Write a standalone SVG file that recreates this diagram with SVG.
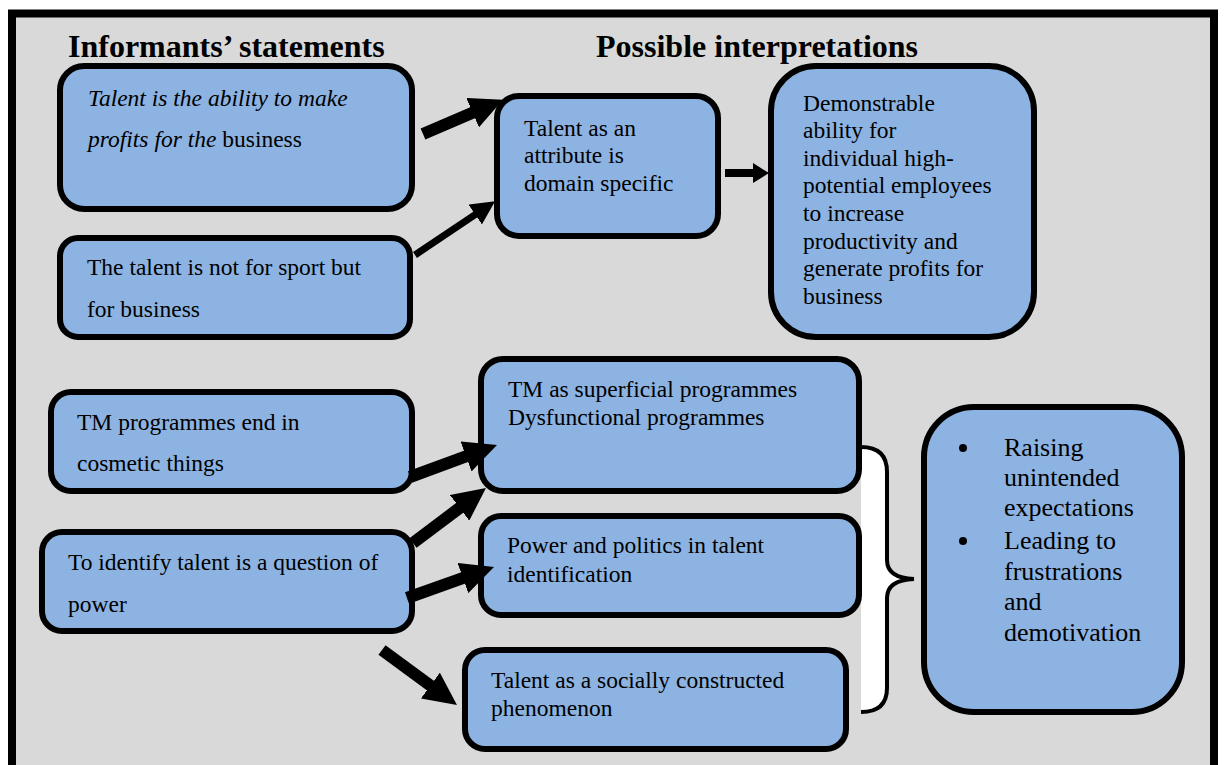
<svg xmlns="http://www.w3.org/2000/svg" width="1224" height="765" viewBox="0 0 1224 765">
<style>
.box{fill:#8db3e2;stroke:#000;stroke-width:6}
.t{font-family:"Liberation Serif","Times New Roman",serif;font-size:23.5px;fill:#000}
.t2{font-family:"Liberation Serif","Times New Roman",serif;font-size:26px;fill:#000}
.h{font-family:"Liberation Serif","Times New Roman",serif;font-size:32px;font-weight:bold;fill:#000}
.c{stroke:#000;fill:none}
</style>
<defs>
<marker id="big" markerUnits="userSpaceOnUse" viewBox="0 0 33 32" markerWidth="33" markerHeight="32" refX="5" refY="16" orient="auto"><path d="M0,0 L33,16 L0,32 z" fill="#000"/></marker>
<marker id="mid" markerUnits="userSpaceOnUse" viewBox="0 0 24 24" markerWidth="24" markerHeight="24" refX="4" refY="12" orient="auto"><path d="M0,0 L24,12 L0,24 z" fill="#000"/></marker>
<marker id="small" markerUnits="userSpaceOnUse" viewBox="0 0 16 20" markerWidth="16" markerHeight="20" refX="3" refY="10" orient="auto"><path d="M0,0 L16,10 L0,20 z" fill="#000"/></marker>
</defs>
<rect x="12" y="13.5" width="1202" height="760" fill="#d9d9d9" stroke="#000" stroke-width="8"/>
<text class="h" x="68" y="57">Informants’ statements</text>
<text class="h" x="596" y="57">Possible interpretations</text>

<g id="brace">
<path d="M861,447 Q887,447 887,472 L887,560 Q887,578 914,579 Q887,580 887,598 L887,688 Q887,712 861,712 Z" fill="#fff"/>
<path d="M861,447 Q887,447 887,472 L887,560 Q887,578 914,579 Q887,580 887,598 L887,688 Q887,712 861,712" fill="none" stroke="#000" stroke-width="4"/>
</g>

<g id="n1"><rect class="box" x="60" y="66" width="352" height="143" rx="24"/>
<text class="t" x="88" y="106" font-style="italic">Talent is the ability to make</text>
<text class="t" x="88" y="147"><tspan font-style="italic">profits for the</tspan> business</text></g>

<g id="n2"><rect class="box" x="60" y="238" width="350" height="99" rx="18"/>
<text class="t" x="87" y="275">The talent is not for sport but</text>
<text class="t" x="87" y="317">for business</text></g>

<g id="n3"><rect class="box" x="497" y="96" width="221" height="140" rx="22"/>
<text class="t" x="524" y="136">Talent as an</text>
<text class="t" x="524" y="163">attribute is</text>
<text class="t" x="524" y="191">domain specific</text></g>

<g id="n4"><rect class="box" x="771" y="66" width="263" height="271" rx="45"/>
<text class="t" x="803" y="111">Demonstrable</text>
<text class="t" x="803" y="138">ability for</text>
<text class="t" x="803" y="166">individual high-</text>
<text class="t" x="803" y="193">potential employees</text>
<text class="t" x="803" y="221">to increase</text>
<text class="t" x="803" y="249">productivity and</text>
<text class="t" x="803" y="276">generate profits for</text>
<text class="t" x="803" y="304">business</text></g>

<g id="n5"><rect class="box" x="51" y="392" width="361" height="99" rx="20"/>
<text class="t" x="77" y="430">TM programmes end in</text>
<text class="t" x="77" y="471">cosmetic things</text></g>

<g id="n6"><rect class="box" x="42" y="532" width="370" height="99" rx="20"/>
<text class="t" x="68" y="570">To identify talent is a question of</text>
<text class="t" x="68" y="612">power</text></g>

<g id="n7"><rect class="box" x="481" y="359" width="378" height="132" rx="22"/>
<text class="t" x="508" y="397">TM as superficial programmes</text>
<text class="t" x="508" y="425">Dysfunctional programmes</text></g>

<g id="n8"><rect class="box" x="481" y="516" width="378" height="99" rx="20"/>
<text class="t" x="507" y="553">Power and politics in talent</text>
<text class="t" x="507" y="582">identification</text></g>

<g id="n9"><rect class="box" x="465" y="650" width="381" height="99" rx="20"/>
<text class="t" x="491" y="688">Talent as a socially constructed</text>
<text class="t" x="491" y="716">phenomenon</text></g>

<g id="n10"><rect class="box" x="924" y="407" width="258" height="305" rx="50"/>
<circle cx="963" cy="448" r="4"/>
<circle cx="963" cy="541" r="4"/>
<text class="t2" x="1004" y="456">Raising</text>
<text class="t2" x="1004" y="486">unintended</text>
<text class="t2" x="1004" y="516">expectations</text>
<text class="t2" x="1004" y="549">Leading to</text>
<text class="t2" x="1004" y="580">frustrations</text>
<text class="t2" x="1004" y="610">and</text>
<text class="t2" x="1004" y="641">demotivation</text></g>

<g id="connectors">
<line class="c" x1="423" y1="134" x2="477.2" y2="110.7" stroke-width="12" marker-end="url(#big)"/>
<line class="c" x1="415" y1="255" x2="478.5" y2="212.3" stroke-width="7" marker-end="url(#mid)"/>
<line class="c" x1="725" y1="173" x2="756" y2="173" stroke-width="8" marker-end="url(#small)"/>
<line class="c" x1="410" y1="477" x2="470.7" y2="454.7" stroke-width="12" marker-end="url(#big)"/>
<line class="c" x1="413" y1="543" x2="463.6" y2="504.9" stroke-width="12" marker-end="url(#big)"/>
<line class="c" x1="407" y1="598" x2="467.6" y2="576.4" stroke-width="12" marker-end="url(#big)"/>
<line class="c" x1="382" y1="650" x2="434.4" y2="688.5" stroke-width="12" marker-end="url(#big)"/>
</g>
</svg>
